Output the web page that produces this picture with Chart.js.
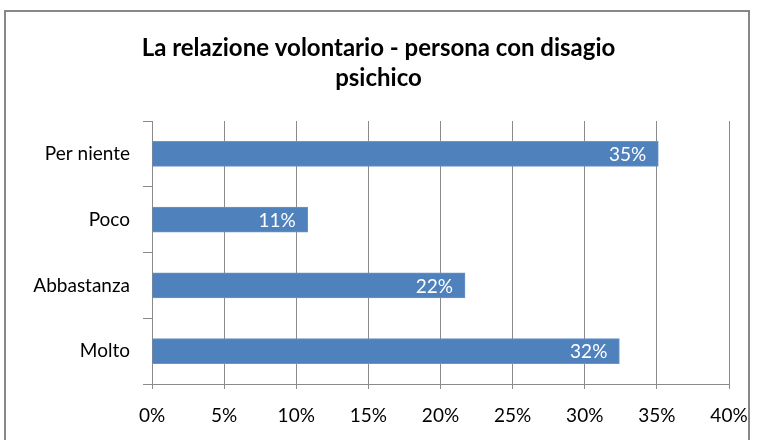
<!DOCTYPE html>
<html>
<head>
<meta charset="utf-8">
<script src="https://cdn.jsdelivr.net/npm/chart.js@4"></script>
<style>
  body { margin: 0; background: #fff; }
  #wrap { position: relative; width: 757px; height: 440px; }
  #frame {
    position: absolute; left: 4px; top: 10px; width: 746px; height: 440px;
    border: 2px solid #878787; box-sizing: border-box; pointer-events: none;
  }
</style>
</head>
<body>
<div id="wrap">
  <canvas id="chart" width="757" height="440"></canvas>
  <div id="frame"></div>
</div>
<script>
const titleLines = ["La relazione volontario - persona con disagio", "psichico"];
const categories = ["Per niente", "Poco", "Abbastanza", "Molto"];
const values = [35.1, 10.8, 21.7, 32.4];
const xTicks = [0, 5, 10, 15, 20, 25, 30, 35, 40];

const font = "Lato, 'Open Sans', sans-serif";
const gridColor = "#8a8a8a";

// white labels inside the end of each bar
const barLabels = {
    id: "barLabels",
    afterDatasetsDraw(chart) {
        const ctx = chart.ctx;
        const meta = chart.getDatasetMeta(0);
        ctx.save();
        ctx.font = "19px " + font;
        ctx.fillStyle = "#ffffff";
        ctx.textAlign = "right";
        ctx.textBaseline = "middle";
        meta.data.forEach((bar, i) => {
            ctx.fillText(Math.round(values[i]) + "%", bar.x - 12, bar.y + 1);
        });
        ctx.restore();
    }
};

new Chart(document.getElementById("chart"), {
    type: "bar",
    data: {
        labels: categories,
        datasets: [{
            data: values,
            backgroundColor: "#4f81bd",
            borderColor: "#6b95c8",
            borderWidth: 1,
            barThickness: 25
        }]
    },
    options: {
        indexAxis: "y",
        responsive: false,
        animation: false,
        layout: { padding: { left: 28, right: 28, top: 0, bottom: 0 } },
        plugins: {
            legend: { display: false },
            tooltip: { enabled: false },
            title: {
                display: true,
                text: titleLines,
                color: "#000",
                font: { family: font, size: 24, weight: "bold", lineHeight: 1.25 },
                padding: { top: 33, bottom: 28 }
            }
        },
        scales: {
            x: {
                min: 0,
                max: 40,
                afterBuildTicks: s => { s.ticks = xTicks.map(v => ({ value: v })); },
                afterFit: s => {
                    s.height = 56;
                    s.paddingLeft = 0;
                    s.paddingRight = 0;
                },
                border: { color: gridColor },
                grid: { color: gridColor, tickLength: 5 },
                ticks: {
                    color: "#000",
                    padding: 15,
                    font: { family: font, size: 19 },
                    callback: v => v + "%"
                }
            },
            y: {
                afterFit: s => { s.width = 124; },
                border: { color: gridColor },
                grid: { color: gridColor, drawOnChartArea: false, tickLength: 9 },
                ticks: {
                    color: "#000",
                    padding: 13,
                    font: { family: font, size: 19 }
                }
            }
        }
    },
    plugins: [barLabels]
});
</script>
</body>
</html>
